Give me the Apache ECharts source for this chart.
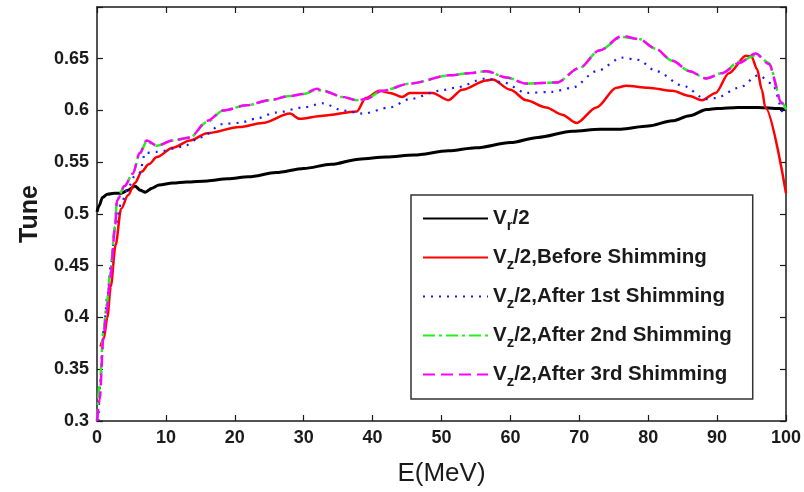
<!DOCTYPE html>
<html>
<head>
<meta charset="utf-8">
<script src="https://cdn.jsdelivr.net/npm/echarts@6/dist/echarts.min.js"></script>
<style>
  html, body { margin: 0; padding: 0; background: #fff; }
  #chart { width: 804px; height: 492px; }
</style>
</head>
<body>
<div id="chart"></div>
<script>
// Energy axis ticks and tune axis ticks
const xTicks = [0, 10, 20, 30, 40, 50, 60, 70, 80, 90, 100];
const yTicks = [0.3, 0.35, 0.4, 0.45, 0.5, 0.55, 0.6, 0.65];

// Legend labels (rich text: subscripts r / z)
const seriesLabels = [
  'V{s|r}/2',
  'V{s|z}/2,Before Shimming',
  'V{s|z}/2,After 1st Shimming',
  'V{s|z}/2,After 2nd Shimming',
  'V{s|z}/2,After 3rd Shimming'
];

// Vr/2
const vrE = [0, 0.3, 0.8, 1.5, 2.5, 3.5, 4.5, 5.5, 6.3, 7, 8, 9, 11, 13, 16, 19, 22, 26, 30, 34, 38, 42, 46, 51, 55, 60, 64, 69, 73, 76, 80, 83.5, 86, 88.5, 90, 93, 96, 99, 100];
const vrTune = [0.502, 0.508, 0.516, 0.519, 0.520, 0.520, 0.523, 0.527, 0.523, 0.521, 0.525, 0.528, 0.530, 0.531, 0.532, 0.534, 0.536, 0.540, 0.544, 0.548, 0.553, 0.555, 0.557, 0.561, 0.564, 0.569, 0.574, 0.580, 0.582, 0.582, 0.585, 0.590, 0.595, 0.601, 0.602, 0.603, 0.603, 0.602, 0.601];

// Vz/2, before shimming
const beforeE = [0.5, 1, 1.5, 2, 2.7, 3.5, 4.5, 5.5, 6.5, 7.5, 8.7, 11, 13.5, 16, 20.7, 24, 28, 29.4, 32.8, 37.7, 39, 41, 42.5, 44.3, 45.4, 48.7, 51, 53, 56.5, 57.4, 60, 62.3, 65.2, 67.5, 69.6, 72.5, 75.4, 76.8, 80, 83.5, 86, 87.8, 89.8, 91.7, 94.2, 95, 95.8, 96.5, 97, 100];
const beforeTune = [0.372, 0.380, 0.400, 0.430, 0.470, 0.505, 0.518, 0.530, 0.541, 0.548, 0.555, 0.564, 0.571, 0.578, 0.584, 0.588, 0.597, 0.592, 0.595, 0.599, 0.612, 0.619, 0.617, 0.613, 0.617, 0.617, 0.610, 0.620, 0.629, 0.630, 0.620, 0.610, 0.603, 0.596, 0.588, 0.603, 0.622, 0.624, 0.622, 0.619, 0.614, 0.610, 0.617, 0.636, 0.653, 0.652, 0.640, 0.620, 0.603, 0.520];

// Vz/2, after 1st shimming
const first_E = [0.2, 0.5, 1, 1.5, 2, 2.7, 3.5, 4.5, 5.5, 6.2, 7, 8.7, 12.5, 15, 18.3, 20.7, 23, 26, 30, 32.8, 35.7, 38.6, 42.5, 45.4, 49.7, 52, 56.5, 59, 62.3, 66, 69, 72.5, 76.2, 78.5, 81.2, 85, 88.4, 89.8, 93.2, 96, 98, 99.7, 100];
const firstTune = [0.300, 0.340, 0.390, 0.420, 0.450, 0.490, 0.510, 0.525, 0.537, 0.540, 0.559, 0.560, 0.565, 0.574, 0.587, 0.588, 0.592, 0.598, 0.603, 0.607, 0.600, 0.597, 0.603, 0.611, 0.619, 0.622, 0.631, 0.627, 0.617, 0.618, 0.622, 0.638, 0.651, 0.649, 0.638, 0.624, 0.611, 0.612, 0.622, 0.634, 0.626, 0.597, 0.594];

// Vz/2, after 2nd shimming
const secondE = [0, 0.4, 0.9, 1.4, 1.9, 2.6, 2.9, 4, 5.2, 6.2, 7.2, 8.7, 11, 13.5, 16, 18.3, 21.7, 25, 28, 30, 31.9, 32.8, 35.7, 37.7, 39, 41.4, 45.4, 51.2, 54, 56.5, 59.4, 62.3, 66.7, 70, 72.9, 76.2, 78.7, 81, 83.5, 86, 88.4, 90.7, 93.2, 95.8, 97.5, 99.4, 100];
const secondTune = [0.300, 0.335, 0.385, 0.412, 0.442, 0.488, 0.514, 0.527, 0.539, 0.558, 0.570, 0.566, 0.571, 0.574, 0.589, 0.600, 0.605, 0.610, 0.614, 0.616, 0.620, 0.619, 0.613, 0.610, 0.611, 0.619, 0.626, 0.634, 0.636, 0.638, 0.632, 0.626, 0.627, 0.641, 0.658, 0.671, 0.669, 0.660, 0.648, 0.638, 0.631, 0.636, 0.647, 0.654, 0.646, 0.608, 0.601];

// Vz/2, after 3rd shimming
const thirdE = [0, 0.4, 0.9, 1.4, 1.9, 2.6, 2.9, 4, 5.2, 6.2, 7.2, 8.7, 11, 13.5, 16, 18.3, 21.7, 25, 28, 30, 31.9, 32.8, 35.7, 37.7, 39, 41.4, 45.4, 51.2, 54, 56.5, 59.4, 62.3, 66.7, 70, 72.9, 76.2, 78.7, 81, 83.5, 86, 88.4, 90.7, 93.2, 95.6, 97.5, 99.4, 100];
const thirdTune = [0.300, 0.321, 0.379, 0.405, 0.436, 0.485, 0.513, 0.527, 0.539, 0.559, 0.571, 0.566, 0.571, 0.574, 0.590, 0.600, 0.605, 0.610, 0.614, 0.616, 0.621, 0.619, 0.613, 0.610, 0.611, 0.619, 0.626, 0.634, 0.636, 0.638, 0.632, 0.626, 0.627, 0.641, 0.658, 0.672, 0.669, 0.660, 0.648, 0.638, 0.631, 0.636, 0.646, 0.655, 0.645, 0.607, 0.600];

const zip = (xs, ys) => xs.map((x, i) => [x, ys[i]]);

const FONT = '"Liberation Sans", Arial, sans-serif';
const AXIS_COLOR = '#1a1a1a';

function frameAxis(extra) {
  return Object.assign({
    type: 'value',
    axisLine: { show: true, onZero: false, lineStyle: { color: AXIS_COLOR, width: 1.5 } },
    axisTick: { show: true, inside: true, length: 6, lineStyle: { color: AXIS_COLOR, width: 1.2 } },
    splitLine: { show: false }
  }, extra);
}

const tickLabel = { fontFamily: FONT, fontSize: 18, fontWeight: 'bold', color: '#1a1a1a' };

const chart = echarts.init(document.getElementById('chart'), null, { renderer: 'canvas' });

function lineSeries(name, data, color, width, type, z) {
  return {
    name: name, type: 'line', data: data, symbol: 'none', showSymbol: false,
    smooth: 0.3, smoothMonotone: 'x', z: z, animation: false,
    xAxisIndex: 0, yAxisIndex: 0,
    lineStyle: { color: color, width: width, type: type, cap: 'butt' },
    itemStyle: { color: color }
  };
}

const legendKeys = ['vr', 'before', 'first', 'second', 'third'];

chart.setOption({
  animation: false,
  backgroundColor: '#fff',
  grid: { left: 97, right: 17, top: 7, bottom: 70, containLabel: false },
  xAxis: [
    frameAxis({
      position: 'bottom', min: xTicks[0], max: xTicks[xTicks.length - 1], interval: 10,
      axisLabel: Object.assign({ margin: 8 }, tickLabel),
      name: 'E(MeV)', nameLocation: 'middle', nameGap: 40,
      nameTextStyle: { fontFamily: FONT, fontSize: 26, color: '#1a1a1a' }
    }),
    frameAxis({
      position: 'top', min: xTicks[0], max: xTicks[xTicks.length - 1], interval: 10,
      axisLabel: { show: false }
    })
  ],
  yAxis: [
    frameAxis({
      position: 'left', min: 0.3, max: 0.7, interval: 0.05,
      axisLabel: Object.assign({
        margin: 8,
        formatter: v => {
          const t = yTicks.find(k => Math.abs(k - v) < 1e-6);
          return t === undefined ? '' : String(t);
        }
      }, tickLabel),
      name: 'Tune', nameLocation: 'middle', nameGap: 52,
      nameTextStyle: { fontFamily: FONT, fontSize: 25, fontWeight: 'bold', color: '#1a1a1a' }
    }),
    frameAxis({
      position: 'right', min: 0.3, max: 0.7, interval: 0.05,
      axisLabel: { show: false }
    })
  ],
  legend: {
    orient: 'vertical', left: 411, top: 195,
    itemWidth: 65, itemHeight: 14, itemGap: 10,
    padding: [9, 21, 10, 11],
    borderColor: '#333', borderWidth: 1.5, backgroundColor: '#fff',
    itemStyle: { opacity: 0 },
    data: legendKeys,
    formatter: name => seriesLabels[legendKeys.indexOf(name)],
    textStyle: {
      fontFamily: FONT, fontSize: 20.5, fontWeight: 'bold', color: '#1a1a1a', lineHeight: 22,
      rich: {
        s: { fontFamily: FONT, fontSize: 15, fontWeight: 'bold', color: '#1a1a1a', lineHeight: 8, padding: [14, 0, 0, 0] }
      }
    }
  },
  series: [
    lineSeries('vr', zip(vrE, vrTune), '#000000', 3, 'solid', 2),
    lineSeries('before', zip(beforeE, beforeTune), '#ff0000', 2.5, 'solid', 3),
    lineSeries('first', zip(first_E, firstTune), '#1a1aff', 2.2, [2, 6], 4),
    lineSeries('second', zip(secondE, secondTune), '#22ee22', 2.5, [12, 4, 3, 4], 5),
    lineSeries('third', zip(thirdE, thirdTune), '#ff00ff', 2.5, [12, 6], 6)
  ]
});
</script>
</body>
</html>
